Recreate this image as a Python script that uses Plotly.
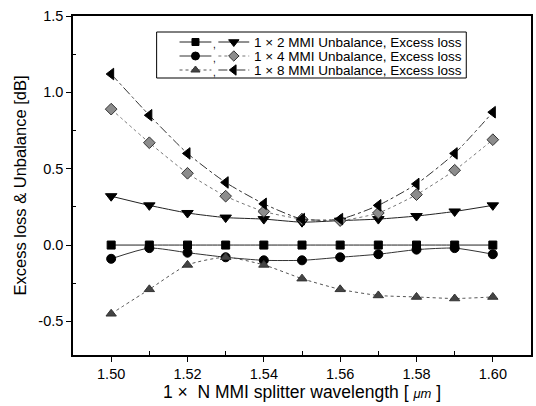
import plotly.graph_objects as go

# Wavelength sweep [um]
wavelength = [1.50, 1.51, 1.52, 1.53, 1.54, 1.55, 1.56, 1.57, 1.58, 1.59, 1.60]

# 1 x 2 MMI
unb_1x2 = [0.00, 0.00, 0.00, 0.00, 0.00, 0.00, 0.00, 0.00, 0.00, 0.00, 0.00]
loss_1x2 = [0.32, 0.26, 0.21, 0.18, 0.17, 0.15, 0.16, 0.17, 0.19, 0.22, 0.26]
# 1 x 4 MMI
unb_1x4 = [-0.09, -0.02, -0.05, -0.08, -0.10, -0.10, -0.08, -0.06, -0.03, -0.02, -0.06]
loss_1x4 = [0.89, 0.67, 0.47, 0.32, 0.22, 0.17, 0.16, 0.21, 0.33, 0.49, 0.69]
# 1 x 8 MMI
unb_1x8 = [-0.45, -0.29, -0.13, -0.08, -0.13, -0.22, -0.29, -0.33, -0.34, -0.35, -0.34]
loss_1x8 = [1.12, 0.85, 0.60, 0.41, 0.27, 0.17, 0.17, 0.26, 0.40, 0.60, 0.87]

legend_labels = [
    "1 \u00d7 2 MMI Unbalance, Excess loss",
    "1 \u00d7 4 MMI Unbalance, Excess loss",
    "1 \u00d7 8 MMI Unbalance, Excess loss",
]

FONT = "Arial, Liberation Sans, sans-serif"

# (values, symbol, marker colour, line colour, dash, marker size)
series = [
    (unb_1x2, "square", "black", "#222", "solid", 8),
    (loss_1x2, "triangle-down", "black", "#222", "solid", 10),
    (unb_1x4, "circle", "black", "#333", "solid", 9),
    (loss_1x4, "diamond", "#8c8c8c", "#777", "dot", 9),
    (unb_1x8, "triangle-up", "#444", "#555", "dot", 9),
    (loss_1x8, "triangle-left", "black", "#333", "dashdot", 10),
]

fig = go.Figure()
for vals, sym, mcol, lcol, dash, size in series:
    fig.add_trace(go.Scatter(
        x=wavelength, y=vals, mode="lines+markers",
        line=dict(color=lcol, width=1, dash=dash, shape="spline", smoothing=0.6),
        marker=dict(symbol=sym, size=size, color=mcol,
                    line=dict(color="#333" if mcol != "black" else "black", width=1)),
        showlegend=False, xaxis="x", yaxis="y",
    ))

# Legend drawn on an overlay axis measured in pixel units of the plot area
L, R, T, B = 73, 533, 16, 355
box = dict(x0=157, x1=468, y0=32, y1=78)
rows_y = [42, 56, 70]
seg1 = (180, 212)
seg2 = (219, 250)
text_x = 253

for i, row in enumerate(rows_y):
    for j, seg in enumerate((seg1, seg2)):
        _, sym, mcol, lcol, dash, size = series[2 * i + j]
        fig.add_trace(go.Scatter(
            x=[seg[0], (seg[0] + seg[1]) / 2, seg[1]], y=[row, row, row],
            mode="lines", line=dict(color=lcol, width=1, dash=dash),
            showlegend=False, hoverinfo="skip", xaxis="x2", yaxis="y2",
        ))
        fig.add_trace(go.Scatter(
            x=[(seg[0] + seg[1]) / 2], y=[row], mode="markers",
            marker=dict(symbol=sym, size=size - 1, color=mcol,
                        line=dict(color="#333" if mcol != "black" else "black", width=1)),
            showlegend=False, hoverinfo="skip", xaxis="x2", yaxis="y2",
        ))
    fig.add_annotation(x=(seg1[1] + seg2[0]) / 2, y=row + 2, xref="x2", yref="y2",
                       text=",", showarrow=False,
                       font=dict(family=FONT, size=10, color="black"))
    fig.add_annotation(x=text_x, y=row, xref="x2", yref="y2", xanchor="left",
                       text=legend_labels[i], showarrow=False,
                       font=dict(family=FONT, size=13.5, color="black"))

fig.add_shape(type="rect", xref="x2", yref="y2", line=dict(color="black", width=1),
              fillcolor="rgba(0,0,0,0)", **box)

axis_common = dict(
    showgrid=False, zeroline=False, showline=True, linecolor="black", linewidth=1.5,
    mirror=True, ticks="outside", ticklen=5, tickcolor="black", tickwidth=1,
    tickfont=dict(family=FONT, size=14.5, color="black"),
)

fig.update_layout(
    width=536, height=406,
    margin=dict(l=L, r=536 - R, t=T, b=406 - B),
    paper_bgcolor="white", plot_bgcolor="white",
    xaxis=dict(
        range=[1.49, 1.61], tickvals=[1.50, 1.52, 1.54, 1.56, 1.58, 1.60],
        ticktext=["1.50", "1.52", "1.54", "1.56", "1.58", "1.60"],
        minor=dict(tickvals=[1.51, 1.53, 1.55, 1.57, 1.59], ticks="inside",
                   ticklen=4, tickcolor="black"),
        title=dict(text="1 \u00d7  N MMI splitter wavelength [ <i><span style='font-size:13px'>\u03bcm</span></i> ]",
                   font=dict(family=FONT, size=17.5, color="black"), standoff=3),
        **axis_common,
    ),
    yaxis=dict(
        range=[-0.72, 1.5], tickvals=[-0.5, 0.0, 0.5, 1.0, 1.5],
        ticktext=["-0.5", "0.0", "0.5", "1.0", "1.5"],
        minor=dict(tickvals=[-0.25, 0.25, 0.75, 1.25], ticks="inside",
                   ticklen=3, tickcolor="black"),
        title=dict(text="Excess loss & Unbalance [dB]",
                   font=dict(family=FONT, size=16.5, color="black"), standoff=8),
        **axis_common,
    ),
    xaxis2=dict(range=[L, R], domain=[0, 1], overlaying="x", visible=False,
                fixedrange=True),
    yaxis2=dict(range=[B, T], domain=[0, 1], overlaying="y", visible=False,
                fixedrange=True),
)

fig.write_html("out.html")
